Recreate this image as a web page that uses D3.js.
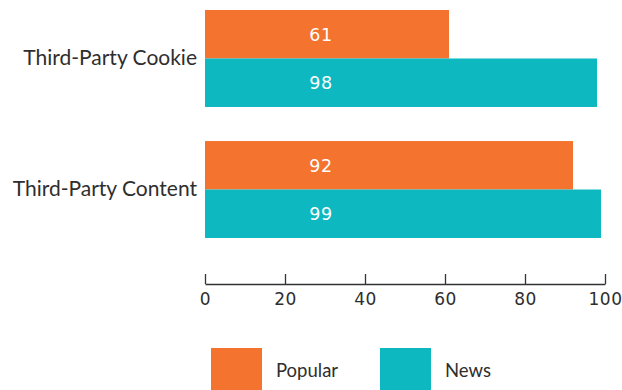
<!DOCTYPE html>
<html>
<head>
<meta charset="utf-8">
<script src="https://cdn.jsdelivr.net/npm/d3@7/dist/d3.min.js"></script>
<style>
  html, body { margin: 0; padding: 0; background: #fff; }
  svg { display: block; }
</style>
</head>
<body>
<svg id="chart" width="622" height="390"></svg>
<script>
// Share of sites (%) using each third-party resource, by site group
const categories = ["Third-Party Cookie", "Third-Party Content"];
const seriesNames = ["Popular", "News"];
const popularValues = [61, 92];
const newsValues = [98, 99];
const tickValues = [0, 20, 40, 60, 80, 100];

const colors = { Popular: "#F4732E", News: "#0DB8C0" };
const textColor = "#2e2e2e";
const font = "Lato, 'Open Sans', sans-serif";
const numFont = "'DejaVu Sans', sans-serif";

const svg = d3.select("#chart");

const x = d3.scaleLinear().domain([0, 100]).range([205, 605]);
const y = d3.scaleBand().domain(categories).range([10, 238]).paddingInner(0.26).paddingOuter(0);
const ySub = d3.scaleBand().domain(seriesNames).range([0, y.bandwidth()]);

const rows = categories.map((c, i) => ({
  category: c,
  values: [
    { series: "Popular", value: popularValues[i] },
    { series: "News", value: newsValues[i] }
  ]
}));

// Bars
const groups = svg.append("g").selectAll("g")
  .data(rows).join("g")
  .attr("transform", d => `translate(0,${y(d.category)})`);

groups.selectAll("rect")
  .data(d => d.values).join("rect")
  .attr("x", x(0))
  .attr("y", d => ySub(d.series))
  .attr("width", d => x(d.value) - x(0))
  .attr("height", ySub.bandwidth())
  .attr("fill", d => colors[d.series]);

// Value labels inside bars
groups.selectAll("text")
  .data(d => d.values).join("text")
  .attr("x", x(29))
  .attr("y", d => ySub(d.series) + ySub.bandwidth() / 2)
  .attr("dy", "0.36em")
  .attr("text-anchor", "middle")
  .attr("fill", "#fff")
  .style("font-family", numFont)
  .style("font-size", "17.5px")
  .style("letter-spacing", "0.5px")
  .text(d => d.value);

// Category labels
svg.append("g").selectAll("text")
  .data(categories).join("text")
  .attr("x", 197)
  .attr("y", d => y(d) + y.bandwidth() / 2)
  .attr("dy", "0.3em")
  .attr("text-anchor", "end")
  .attr("fill", textColor)
  .style("font-family", font)
  .style("font-size", "21px")
  .text(d => d);

// Value axis
const axis = svg.append("g")
  .attr("transform", "translate(0,284)")
  .call(d3.axisBottom(x).tickValues(tickValues).tickSizeInner(-10).tickSizeOuter(0).tickPadding(5));
axis.select(".domain").attr("stroke", "#333").attr("stroke-width", 1.3);
axis.selectAll(".tick line").attr("stroke", "#333").attr("stroke-width", 1.3);
axis.selectAll(".tick text")
  .attr("y", 9)
  .attr("dy", "0.71em")
  .attr("fill", textColor)
  .style("font-family", numFont)
  .style("font-size", "17px")
  .style("letter-spacing", "0.5px");

// Legend
const legend = svg.append("g").selectAll("g")
  .data(seriesNames).join("g")
  .attr("transform", (d, i) => `translate(${[211, 380][i]},348)`);
legend.append("rect")
  .attr("width", 51).attr("height", 51)
  .attr("fill", d => colors[d]);
legend.append("text")
  .attr("x", 65).attr("y", 23)
  .attr("dy", "0.35em")
  .attr("fill", textColor)
  .style("font-family", font)
  .style("font-size", "18.5px")
  .text(d => d);
</script>
</body>
</html>
